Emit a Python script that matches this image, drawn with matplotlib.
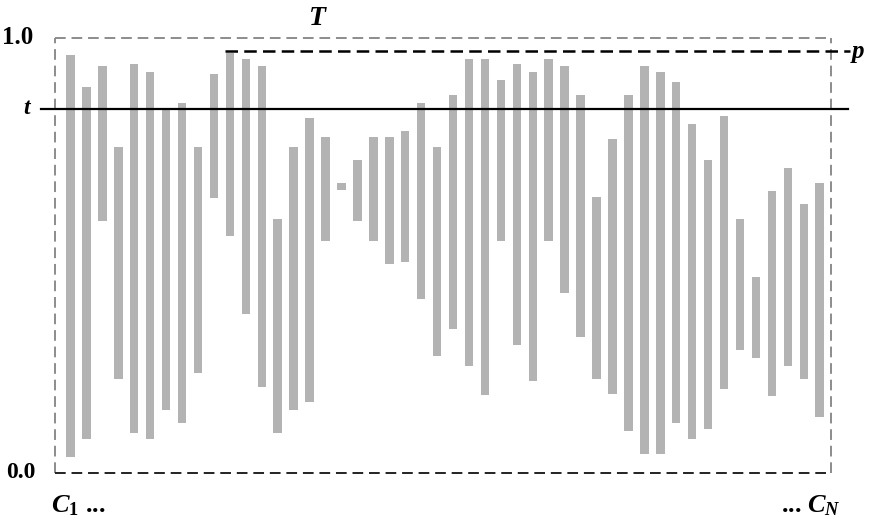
import matplotlib
matplotlib.use("Agg")
import matplotlib.pyplot as plt
import numpy as np

# intervalos (inferior, superior) por cada C_i
bottoms = [0.037, 0.078, 0.579, 0.216, 0.092, 0.078, 0.145, 0.115, 0.230, 0.632,
           0.545, 0.366, 0.198, 0.092, 0.145, 0.163, 0.533, 0.651, 0.579, 0.533,
           0.480, 0.485, 0.400, 0.269, 0.331, 0.246, 0.179, 0.533, 0.294, 0.211,
           0.533, 0.414, 0.313, 0.216, 0.182, 0.097, 0.044, 0.044, 0.115, 0.078,
           0.101, 0.193, 0.283, 0.264, 0.177, 0.246, 0.216, 0.129]
tops = [0.961, 0.887, 0.936, 0.749, 0.940, 0.922, 0.837, 0.851, 0.749, 0.917,
        0.966, 0.952, 0.936, 0.584, 0.749, 0.816, 0.772, 0.667, 0.720, 0.772,
        0.772, 0.786, 0.851, 0.749, 0.869, 0.952, 0.952, 0.903, 0.940, 0.922,
        0.952, 0.936, 0.869, 0.634, 0.768, 0.869, 0.936, 0.922, 0.899, 0.802,
        0.720, 0.821, 0.584, 0.451, 0.648, 0.701, 0.618, 0.667]
t_val = 0.837
p_val = 0.969
p_start = 9.69

plt.rcParams['mathtext.fontset'] = 'custom'
plt.rcParams['mathtext.it'] = 'Liberation Serif:bold:italic'
plt.rcParams['mathtext.rm'] = 'Liberation Serif:bold'

fig = plt.figure(figsize=(8.72, 5.23), dpi=100)
ax = fig.add_axes([0, 0, 1, 1])
ax.set_xlim(-4.42, 50.28)
ax.set_ylim(-0.115, 1.087)
ax.axis('off')

x = np.arange(len(tops))
alturas = [a - b for a, b in zip(tops, bottoms)]
ax.bar(x, alturas, bottom=bottoms, width=0.53, color="#b3b3b3", zorder=2)

# marco punteado
x0, x1 = -0.97, 47.7
ax.plot([x0, x1], [1, 1], ls=(0, (5.5, 3)), color="#8c8c8c", lw=1.4)
ax.plot([x0, x0], [0, 1], ls=(0, (5.5, 3)), color="#8c8c8c", lw=1.4)
ax.plot([x1, x1], [0, 1], ls=(0, (5.5, 3)), color="#8c8c8c", lw=1.4)
ax.plot([x0, x1], [0, 0], ls=(0, (5.5, 3)), color="#222222", lw=1.4)

ax.plot([-1.85, 48.77], [t_val, t_val], color="black", lw=1.6, zorder=3)
ax.plot([p_start, 48.9], [p_val, p_val], ls=(0, (5, 2.5)), color="black", lw=1.8, zorder=3)

serif = "Liberation Serif"
ax.text(-3.3, 1.0, "1.0", fontsize=18, fontweight='bold', family=serif, ha='center', va='center')
ax.text(-3.1, 0.0, "0.0", fontsize=17, fontweight='bold', family=serif, ha='center', va='center')
ax.text(-2.75, t_val, "t", fontsize=17, fontweight='bold', style='italic', family=serif, ha='center', va='center')
ax.text(15.5, 1.045, "T", fontsize=20, fontweight='bold', style='italic', family=serif, ha='center', va='center')
ax.text(49.0, p_val, "p", fontsize=18, fontweight='bold', style='italic', family=serif, ha='left', va='center')
ax.text(-1.2, -0.075, r"$C_1$ ...", fontsize=19, family=serif, fontweight='bold', ha='left', va='center')
ax.text(48.3, -0.075, r"... $C_N$", fontsize=19, family=serif, fontweight='bold', ha='right', va='center')

plt.savefig("out.png", dpi=100)
